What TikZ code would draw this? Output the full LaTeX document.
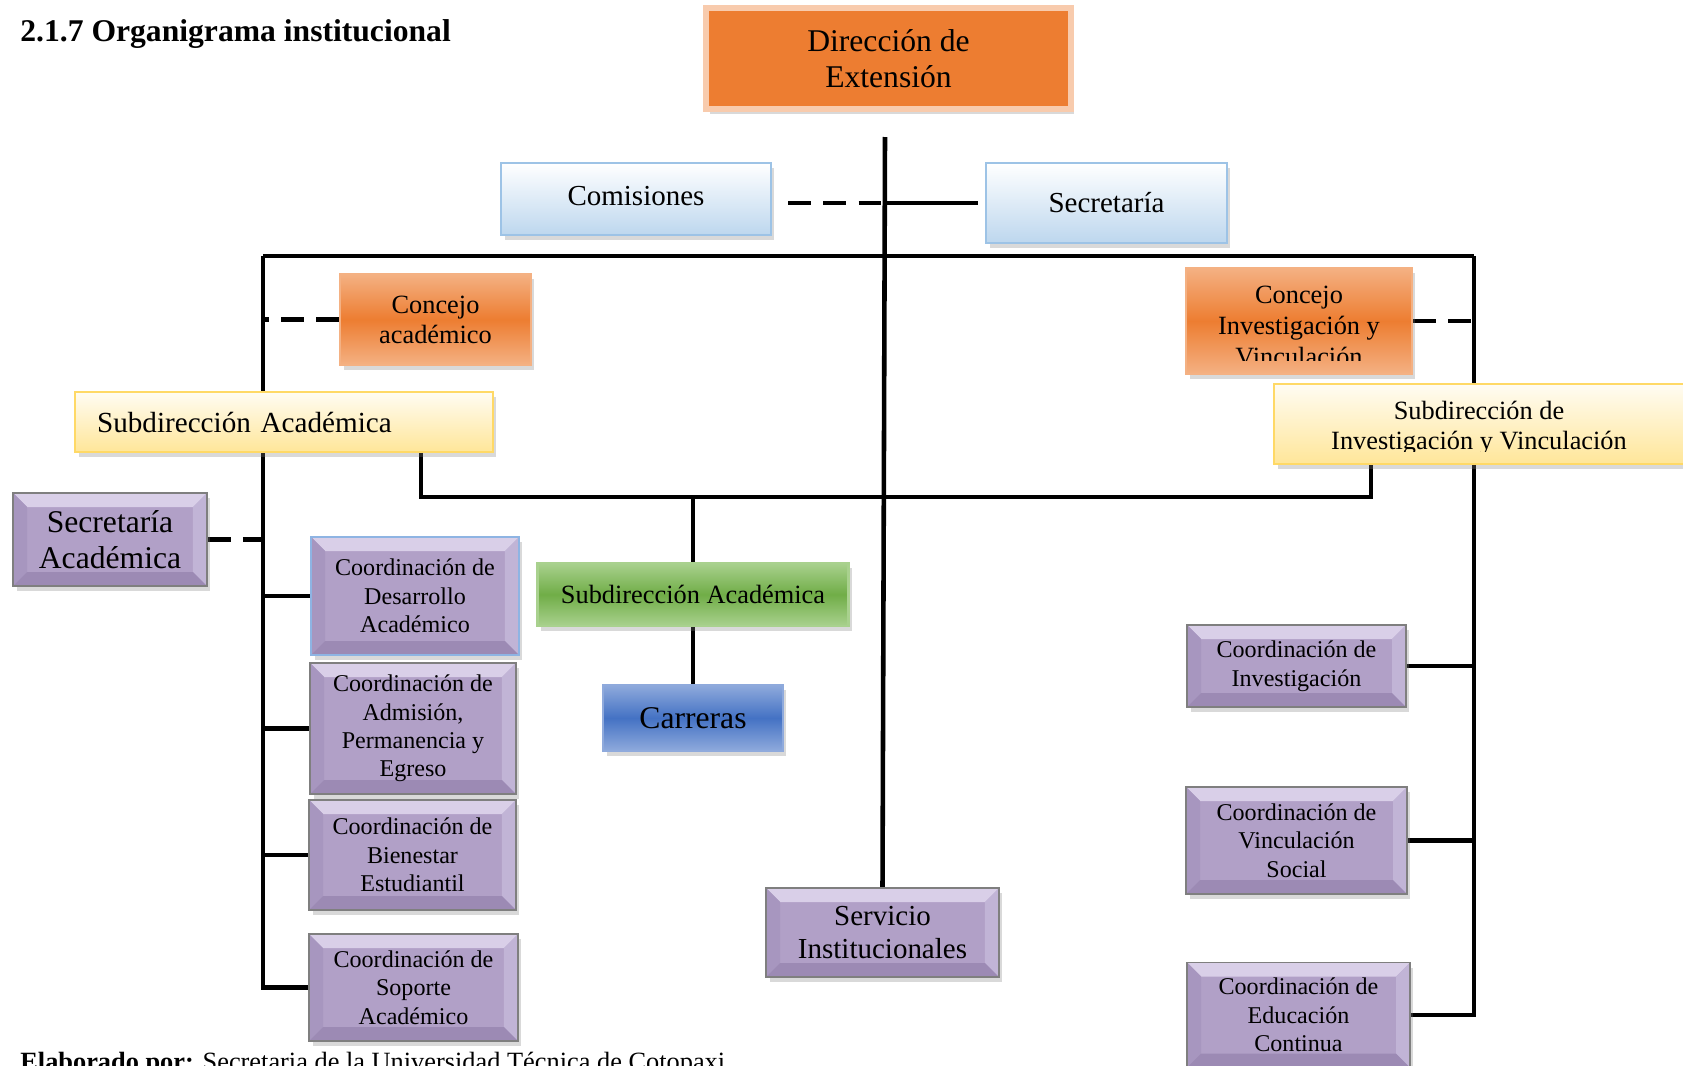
\documentclass[tikz,border=0pt]{standalone}
\usepackage{fontspec}
\setmainfont{Liberation Serif}
\usetikzlibrary{positioning,shadows,backgrounds}

\definecolor{naranja}{HTML}{ED7D31}
\definecolor{naranjaclaro}{HTML}{F4B183}
\definecolor{marcodir}{HTML}{F8CBAD}
\definecolor{celeste}{HTML}{BDD7EE}
\definecolor{bordeceleste}{HTML}{9DC3E6}
\definecolor{amarillo}{HTML}{FFE699}
\definecolor{bordeamarillo}{HTML}{FFD966}
\definecolor{lila}{HTML}{B1A0C7}
\definecolor{lilaclaro}{HTML}{D9CFE8}
\definecolor{lilaoscuro}{HTML}{9C8AB4}
\definecolor{lilaizq}{HTML}{A796BF}
\definecolor{lilader}{HTML}{C1B4D6}
\definecolor{bordelila}{HTML}{7F7F7F}
\definecolor{bordeazul}{HTML}{8EB4E3}
\definecolor{verde}{HTML}{70AD47}
\definecolor{verdeclaro}{HTML}{A9D18E}
\definecolor{azul}{HTML}{4472C4}
\definecolor{azulclaro}{HTML}{8FAADC}

\newcommand{\bisel}{0.28cm}

\tikzset{
  caja/.style={rectangle, inner sep=2pt, align=center,
    drop shadow={shadow xshift=0.07cm, shadow yshift=-0.1cm, opacity=0.3}},
  dirbox/.style={caja, fill=naranja, draw=marcodir, line width=3pt},
  concejobox/.style={caja, top color=naranjaclaro, bottom color=naranjaclaro,
    middle color=naranja, draw=naranjaclaro, line width=1.2pt},
  celestebox/.style={caja, top color=white, bottom color=celeste,
    draw=bordeceleste, line width=1.5pt},
  amarillobox/.style={caja, top color=amarillo!12, bottom color=amarillo,
    draw=bordeamarillo, line width=1.5pt},
  verdebox/.style={caja, top color=verdeclaro, bottom color=verdeclaro,
    middle color=verde, draw=verdeclaro, line width=1.2pt},
  azulbox/.style={caja, top color=azulclaro, bottom color=azulclaro,
    middle color=azul, draw=azulclaro, line width=1.2pt},
  lilabox/.style={caja, fill=lila, draw=bordelila, line width=0.8pt,
    path picture={
      \fill[lilaclaro] (path picture bounding box.north west) -- (path picture bounding box.north east)
        -- ++(-\bisel,-\bisel) -- ([shift={(\bisel,-\bisel)}]path picture bounding box.north west) -- cycle;
      \fill[lilaizq] (path picture bounding box.north west) -- ++(\bisel,-\bisel)
        -- ([shift={(\bisel,\bisel)}]path picture bounding box.south west) -- (path picture bounding box.south west) -- cycle;
      \fill[lilader] (path picture bounding box.north east) -- ++(-\bisel,-\bisel)
        -- ([shift={(-\bisel,\bisel)}]path picture bounding box.south east) -- (path picture bounding box.south east) -- cycle;
      \fill[lilaoscuro] (path picture bounding box.south west) -- (path picture bounding box.south east)
        -- ++(-\bisel,\bisel) -- ([shift={(\bisel,\bisel)}]path picture bounding box.south west) -- cycle;
    }},
  coord/.style={lilabox, font=\fontsize{13.7pt}{16.2pt}\selectfont},
  linea/.style={line width=2.6pt},
  discont/.style={line width=2.6pt, dash pattern=on 13pt off 7pt}
}

\begin{document}
\begin{tikzpicture}[x=0.02cm, y=-0.02cm]
  \useasboundingbox (0,0) rectangle (1683,1065);

  \node[anchor=base west, inner sep=0, font=\bfseries\fontsize{18pt}{20pt}\selectfont] (titulo) at (20,41) {2.1.7 Organigrama institucional};

  \node[dirbox, minimum width=7.3cm, minimum height=2.02cm, font=\fontsize{18pt}{20.8pt}\selectfont] (direccion) at (888.5,58.5) {Dirección de\\Extensión};
  \node[celestebox, minimum width=5.4cm, minimum height=1.44cm, font=\fontsize{16.5pt}{19pt}\selectfont] (comisiones) at (636,199) {\raisebox{3pt}{Comisiones}};
  \node[celestebox, minimum width=4.82cm, minimum height=1.6cm, font=\fontsize{16.5pt}{19pt}\selectfont] (secretaria) at (1106.5,203) {Secretaría};

  \node[concejobox, minimum width=3.82cm, minimum height=1.82cm, font=\fontsize{15pt}{17pt}\selectfont] (concejoac) at (435.5,319.5) {Concejo\\académico};
  \node[concejobox, minimum width=4.52cm, minimum height=2.12cm] (concejoiv) at (1299,321) {};
  \begin{scope}
    \clip (concejoiv.north west) rectangle ([yshift=0.3cm]concejoiv.south east);
    \node[align=center, font=\fontsize{15pt}{17.4pt}\selectfont] (concejoivtxt) at (1299,326) {Concejo\\Investigación y\\Vinculación};
  \end{scope}

  \node[amarillobox, minimum width=8.36cm, minimum height=1.2cm, text width=7.48cm, inner xsep=0.44cm, align=left, font=\fontsize{16.6pt}{19pt}\selectfont] (subac) at (284,422) {Subdirección Académica};
  \node[amarillobox, minimum width=8.2cm, minimum height=1.6cm] (subiv) at (1479,424) {};
  \begin{scope}
    \clip (subiv.north west) rectangle ([yshift=0.28cm]subiv.south east);
    \node[align=center, font=\fontsize{15pt}{17pt}\selectfont] (subivtxt) at (1479,428) {Subdirección de\\Investigación y Vinculación};
  \end{scope}

  \node[lilabox, minimum width=3.88cm, minimum height=1.86cm, font=\fontsize{18pt}{20.8pt}\selectfont] (secac) at (110,539.5) {Secretaría\\Académica};
  \node[coord, draw=bordeazul, line width=1.2pt, minimum width=4.16cm, minimum height=2.36cm] (desarrollo) at (415,596) {Coordinación de\\Desarrollo\\Académico};
  \node[coord, minimum width=4.12cm, minimum height=2.62cm] (admision) at (413,728.5) {Coordinación de\\Admisión,\\Permanencia y\\Egreso};
  \node[coord, minimum width=4.14cm, minimum height=2.2cm] (bienestar) at (412.5,855) {Coordinación de\\Bienestar\\Estudiantil};
  \node[coord, minimum width=4.18cm, minimum height=2.14cm] (soporte) at (413.5,987.5) {Coordinación de\\Soporte\\Académico};

  \node[verdebox, minimum width=6.22cm, minimum height=1.26cm, font=\fontsize{15pt}{17pt}\selectfont] (subverde) at (693,594.5) {Subdirección Académica};
  \node[azulbox, minimum width=3.6cm, minimum height=1.32cm, font=\fontsize{18pt}{20pt}\selectfont] (carreras) at (693,718) {Carreras};
  \node[lilabox, minimum width=4.66cm, minimum height=1.78cm, font=\fontsize{16.5pt}{19pt}\selectfont] (servicio) at (882.5,932.5) {Servicio\\Institucionales};

  \node[coord, minimum width=4.38cm, minimum height=1.64cm] (investigacion) at (1296.5,666) {Coordinación de\\Investigación};
  \node[coord, minimum width=4.42cm, minimum height=2.14cm] (vinculacion) at (1296.5,840.5) {Coordinación de\\Vinculación\\Social};
  \node[coord, minimum width=4.46cm, minimum height=2.1cm] (educacion) at (1298.5,1015) {Coordinación de\\Educación\\Continua};

  \node[anchor=base west, inner sep=0, font=\fontsize{15pt}{17pt}\selectfont] (fuente) at (20,1070) {\textbf{Elaborado por:} Secretaria de la Universidad Técnica de Cotopaxi};

  \begin{scope}[on background layer]
    \coordinate (arriba) at (885,137);
    \coordinate (busizq) at (263,256);
    \coordinate (busder) at (1474,256);
    \coordinate (subizq) at (421,497);
    \coordinate (subder) at (1371,497);
    \draw[linea] (arriba) -- (servicio.north);
    \draw[linea] (busizq) -- (busder);
    \draw[linea] (busizq) |- (soporte.west);
    \draw[linea] (busder) |- (educacion.east);
    \draw[discont, shorten <=0.32cm] (secretaria.west -| comisiones.east) -- (secretaria.west -| arriba);
    \draw[linea, shorten >=0.14cm] (secretaria.west -| arriba) -- (secretaria.west);
    \draw[discont] (concejoac.west) -- (concejoac.west -| busizq);
    \draw[discont] (concejoiv.east) -- (concejoiv.east -| busder);
    \draw[discont] (secac.east) -- (secac.east -| busizq);
    \foreach \n in {desarrollo,admision,bienestar}
      \draw[linea] (\n.west) -- (\n.west -| busizq);
    \foreach \n in {investigacion,vinculacion}
      \draw[linea] (\n.east) -- (\n.east -| busder);
    \draw[linea] (subizq |- subac.south) -- (subizq) -- (subder) -- (subder |- subiv.south);
    \draw[linea] (subverde.north) -- (subverde.north |- subizq);
    \draw[linea] (subverde.south) -- (carreras.north);
  \end{scope}
\end{tikzpicture}
\end{document}
